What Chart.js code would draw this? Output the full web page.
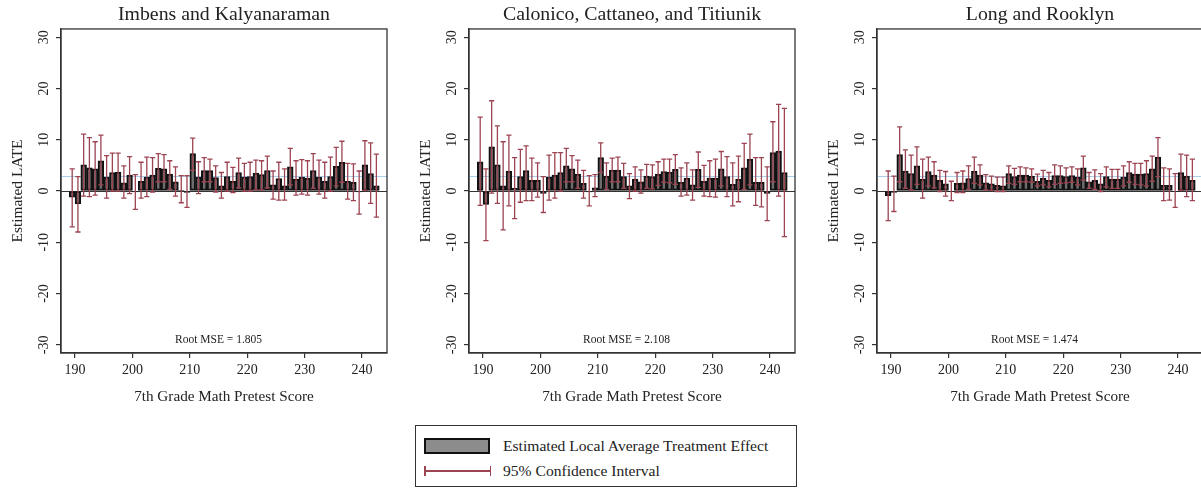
<!DOCTYPE html>
<html>
<head>
<meta charset="utf-8">
<title>Estimated LATE by pretest score</title>
<script src="https://cdn.jsdelivr.net/npm/chart.js@4.4.1/dist/chart.umd.min.js"></script>
<style>
  html, body { margin: 0; padding: 0; background: #fff; overflow: hidden; }
  body { width: 1201px; height: 491px; position: relative; }
  .panel { position: absolute; top: 0; }
  #legend {
    position: absolute; left: 415px; top: 425px; width: 382px; height: 62px;
    border: 1px solid #333; box-sizing: border-box;
    font-family: "Liberation Serif", serif; font-size: 15.6px; color: #222;
  }
  #legend .row { position: absolute; left: 0; height: 20px; width: 100%; }
  #legend .swatch {
    position: absolute; left: 8px; top: 2px; width: 66px; height: 16px;
    background: #8c8c8c; border: 2px solid #111; box-sizing: border-box;
  }
  #legend .ci { position: absolute; left: 8px; top: 9px; width: 67px; height: 2px; background: #9c4452; }
  #legend .ci::before, #legend .ci::after {
    content: ""; position: absolute; top: -4px; width: 1.5px; height: 10px; background: #9c4452;
  }
  #legend .ci::before { left: 0; }
  #legend .ci::after { right: 0; }
  #legend .label { position: absolute; left: 87px; top: 0; line-height: 20px; }
</style>
</head>
<body>

<canvas id="ik" class="panel" width="408" height="415" style="left:0px"></canvas>
<canvas id="cct" class="panel" width="408" height="415" style="left:408px"></canvas>
<canvas id="lr" class="panel" width="408" height="415" style="left:816px"></canvas>

<div id="legend">
  <div class="row" style="top:10px"><div class="swatch"></div><span class="label">Estimated Local Average Treatment Effect</span></div>
  <div class="row" style="top:35px"><div class="ci"></div><span class="label">95% Confidence Interval</span></div>
</div>

<script>
// pretest scores (one bar per score)
const scores = [189, 190, 191, 192, 193, 194, 195, 196, 197, 198, 199, 200, 201, 202, 203, 204, 205, 206,
  207, 208, 209, 210, 211, 212, 213, 214, 215, 216, 217, 218, 219, 220, 221, 222, 223, 224,
  225, 226, 227, 228, 229, 230, 231, 232, 233, 234, 235, 236, 237, 238, 239, 240, 241, 242];

// Imbens and Kalyanaraman bandwidth
const ikLate = [-1.2, -2.5, 5.1, 4.5, 4.3, 5.9, 2.7, 3.6, 3.7, 1.6, 3.1, -0.2, 1.9, 2.7, 3.1, 4.4, 4.3, 3.3,
  1.8, 0.1, -0.3, 7.3, 2.7, 4.0, 4.0, 2.6, 1.0, 2.8, 1.9, 3.6, 2.7, 2.8, 3.5, 3.2, 4.0, 1.2,
  2.4, 1.0, 4.7, 2.3, 2.7, 2.5, 4.0, 2.7, 1.9, 2.8, 4.8, 5.6, 1.9, 1.7, -0.2, 5.1, 3.4, 1.0];
const ikLo = [-7.0, -8.0, -1.0, -1.1, -0.8, 1.2, -1.4, 0.0, 0.0, -1.4, -0.5, -3.6, -1.4, -1.1, -0.2, 1.8, 1.8, 0.3,
  -1.0, -2.3, -3.2, 4.0, -0.5, 1.8, 1.8, -0.2, -1.4, 0.0, -0.3, 0.6, 0.0, 0.0, 0.2, 0.2, 0.6, -1.6,
  -1.8, -1.8, 1.2, -0.8, -0.6, -0.8, 0.5, -0.6, -1.4, 0.0, 1.0, 1.7, -1.6, -1.9, -4.5, 0.1, -2.4, -5.1];
const ikHi = [4.3, 2.8, 11.1, 10.4, 9.6, 10.9, 6.9, 7.4, 7.4, 4.9, 6.7, 3.2, 5.6, 6.6, 6.5, 7.3, 7.1, 5.9,
  4.7, 3.0, 3.0, 10.3, 5.7, 6.5, 6.2, 4.9, 3.6, 5.6, 4.6, 6.4, 5.4, 5.6, 6.0, 5.9, 6.8, 3.9,
  5.6, 4.3, 8.3, 5.9, 6.1, 5.9, 7.3, 6.0, 5.6, 6.6, 8.5, 9.7, 5.4, 5.3, 3.9, 9.8, 9.4, 7.2];

// Calonico, Cattaneo, and Titiunik bandwidth
const cctLate = [5.7, -2.6, 8.6, 5.1, 1.0, 3.9, 0.5, 2.8, 4.0, 2.1, 2.1, -0.5, 2.7, 3.1, 3.6, 4.9, 4.3, 3.3,
  1.5, -0.2, 0.6, 6.5, 2.9, 4.1, 4.1, 2.8, 1.0, 2.3, 1.8, 2.9, 2.8, 3.3, 3.8, 3.7, 4.2, 1.7,
  2.5, 1.2, 4.2, 1.9, 2.5, 2.5, 4.3, 2.8, 1.3, 2.3, 4.5, 6.2, 1.7, 1.7, -0.5, 7.5, 7.8, 3.6];
const cctLo = [-2.8, -9.7, -0.4, -2.4, -7.6, -2.9, -5.4, -2.2, -1.9, -1.9, -1.2, -4.2, -1.8, -1.4, 0.0, 1.8, 1.8, 0.5,
  -1.4, -2.9, -1.1, 3.6, 0.3, 1.8, 1.8, 0.5, -1.5, 0.0, -0.4, 0.5, 0.4, 1.1, 1.7, 1.6, 1.3, -1.0,
  -0.8, -1.8, 0.7, -1.0, -1.1, -1.2, 1.0, -1.1, -2.9, -2.1, 0.3, 1.2, -2.8, -3.1, -5.8, 1.8, -1.0, -8.9];
const cctHi = [14.4, 4.3, 17.6, 12.7, 9.6, 10.9, 6.5, 8.1, 8.8, 6.4, 5.5, 2.8, 7.0, 7.5, 7.5, 8.3, 6.9, 6.0,
  4.0, 3.0, 3.2, 9.4, 5.5, 6.4, 6.6, 5.4, 3.4, 4.7, 4.1, 5.2, 5.1, 5.7, 6.2, 6.2, 7.1, 4.5,
  5.5, 4.1, 7.6, 5.0, 5.9, 6.2, 7.7, 6.7, 5.5, 6.8, 9.3, 11.1, 6.5, 6.5, 4.7, 13.5, 16.9, 16.1];

// Long and Rooklyn bandwidth
const lrLate = [-0.9, -0.3, 7.1, 3.9, 3.4, 4.9, 2.3, 3.8, 3.1, 2.1, 1.4, -0.1, 1.5, 1.6, 2.4, 3.9, 3.1, 1.6,
  1.4, 1.1, 1.0, 3.4, 2.8, 3.1, 3.1, 2.9, 1.9, 2.5, 2.1, 3.0, 3.0, 2.8, 3.0, 2.7, 4.5, 1.8,
  2.1, 1.4, 2.8, 2.3, 2.3, 2.7, 3.6, 3.3, 3.3, 3.4, 4.3, 6.6, 1.1, 1.1, -0.1, 3.6, 2.9, 2.1];
const lrLo = [-5.8, -4.0, 1.8, 0.5, 0.2, 1.3, -1.4, 1.0, 0.6, -0.1, -1.0, -1.9, -0.3, -0.3, 0.3, 1.5, 1.2, 0.2,
  0.1, -0.1, -0.1, 1.5, 1.3, 1.8, 1.8, 1.7, 1.0, 1.2, 0.8, 1.3, 1.5, 1.6, 1.7, 1.2, 2.1, 0.5,
  0.3, -0.1, 0.8, 0.5, 0.5, 1.0, 1.7, 1.3, 1.2, 1.0, 1.9, 2.8, -1.9, -1.8, -3.2, 0.1, -1.1, -1.9];
const lrHi = [3.9, 2.9, 12.5, 8.0, 7.0, 8.6, 6.2, 6.6, 5.7, 4.0, 3.8, 1.9, 3.6, 3.9, 4.9, 6.6, 5.1, 3.2,
  2.9, 2.7, 2.7, 4.9, 4.4, 4.7, 4.5, 4.3, 3.3, 4.0, 3.6, 5.1, 4.9, 4.5, 4.7, 4.3, 6.8, 3.6,
  4.1, 3.4, 4.7, 4.2, 4.2, 4.9, 5.7, 5.4, 5.4, 5.9, 6.8, 10.4, 4.5, 4.3, 3.4, 7.2, 7.0, 6.2];

const titles = ['Imbens and Kalyanaraman', 'Calonico, Cattaneo, and Titiunik', 'Long and Rooklyn'];
const rootMse = ['1.805', '2.108', '1.474'];
const pooledLate = 2.9; // pale blue reference line
const xTicks = [190, 200, 210, 220, 230, 240];
const yTicks = [-30, -20, -10, 0, 10, 20, 30];

const serif = '"Liberation Serif", "Times New Roman", serif';
const inkColor = '#222';
const ciColor = '#9c4452';

Chart.defaults.font.family = serif;
Chart.defaults.color = inkColor;

// reference lines, CI whiskers, frame and RMSE note
const panelDecor = {
  id: 'panelDecor',
  beforeDatasetsDraw(chart, args, opts) {
    const { ctx, chartArea: a, scales: { y } } = chart;
    ctx.save();
    ctx.lineWidth = 1;
    ctx.strokeStyle = '#a8d0ea';
    let py = Math.round(y.getPixelForValue(pooledLate)) + 0.5;
    ctx.beginPath(); ctx.moveTo(a.left, py); ctx.lineTo(a.right, py); ctx.stroke();
    ctx.strokeStyle = '#333';
    py = Math.round(y.getPixelForValue(0)) + 0.5;
    ctx.beginPath(); ctx.moveTo(a.left, py); ctx.lineTo(a.right, py); ctx.stroke();
    ctx.restore();
  },
  afterDatasetsDraw(chart, args, opts) {
    const { ctx, chartArea: a, scales: { x, y } } = chart;
    const pts = chart.data.datasets[0].data;
    ctx.save();
    ctx.strokeStyle = ciColor;
    ctx.lineWidth = 1.3;
    const cap = 2.6;
    pts.forEach((p, i) => {
      const px = x.getPixelForValue(p.x);
      const top = y.getPixelForValue(opts.hi[i]);
      const bot = y.getPixelForValue(opts.lo[i]);
      ctx.beginPath();
      ctx.moveTo(px, top); ctx.lineTo(px, bot);
      ctx.moveTo(px - cap, top); ctx.lineTo(px + cap, top);
      ctx.moveTo(px - cap, bot); ctx.lineTo(px + cap, bot);
      ctx.stroke();
    });
    // plot frame
    ctx.strokeStyle = '#333';
    ctx.lineWidth = 1.3;
    ctx.strokeRect(a.left, a.top, a.width, a.height);
    // root MSE note near the bottom
    ctx.fillStyle = inkColor;
    ctx.font = '11.5px ' + serif;
    ctx.textAlign = 'center';
    ctx.textBaseline = 'middle';
    ctx.fillText('Root MSE = ' + opts.rmse, x.getPixelForValue(215), y.getPixelForValue(-29));
    ctx.restore();
  }
};

function drawPanel(id, title, late, lo, hi, rmse) {
  // bars cover [score, score + 1), so centre them half a point right
  const bars = scores.map((s, i) => ({ x: s + 0.5, y: late[i] }));
  new Chart(document.getElementById(id), {
    type: 'bar',
    data: {
      datasets: [{
        data: bars,
        backgroundColor: '#6e6e6e',
        borderColor: '#111',
        borderWidth: 2,
        borderSkipped: false,
        barPercentage: 1,
        categoryPercentage: 1
      }]
    },
    options: {
      responsive: false,
      animation: false,
      layout: { padding: { right: 21, left: 0, top: 0, bottom: 0 } },
      scales: {
        x: {
          type: 'linear',
          offset: false,
          min: 187.55,
          max: 244.35,
          afterBuildTicks: s => { s.ticks = xTicks.map(v => ({ value: v })); },
          afterFit: s => { s.height = 62; },
          grid: { offset: false, drawOnChartArea: false, drawTicks: true, tickLength: 5, color: '#333', lineWidth: 1.2 },
          border: { display: true, color: '#333', width: 1.3 },
          ticks: { font: { size: 14 }, padding: 4, color: inkColor, maxRotation: 0 },
          title: { display: true, text: '7th Grade Math Pretest Score', font: { size: 15.2 }, padding: { top: 4, bottom: 9 }, color: inkColor }
        },
        y: {
          min: -31.6,
          max: 31.6,
          afterBuildTicks: s => { s.ticks = yTicks.map(v => ({ value: v })); },
          afterFit: s => { s.width = 61; },
          grid: { drawOnChartArea: false, drawTicks: true, tickLength: 5, color: '#333', lineWidth: 1.2 },
          border: { display: true, color: '#333', width: 1.3 },
          ticks: { font: { size: 14 }, padding: 2, minRotation: 90, maxRotation: 90, crossAlign: 'center', color: inkColor },
          title: { display: true, text: 'Estimated LATE', font: { size: 15.4 }, padding: { top: 9, bottom: 0 }, color: inkColor }
        }
      },
      plugins: {
        legend: { display: false },
        tooltip: { enabled: false },
        title: {
          display: true,
          text: title,
          fullSize: false,
          font: { size: 19.8, weight: 'normal' },
          color: inkColor,
          padding: { top: 2.5, bottom: 2.7 }
        },
        panelDecor: { lo: lo, hi: hi, rmse: rmse }
      }
    },
    plugins: [panelDecor]
  });
}

drawPanel('ik', titles[0], ikLate, ikLo, ikHi, rootMse[0]);
drawPanel('cct', titles[1], cctLate, cctLo, cctHi, rootMse[1]);
drawPanel('lr', titles[2], lrLate, lrLo, lrHi, rootMse[2]);
</script>
</body>
</html>
